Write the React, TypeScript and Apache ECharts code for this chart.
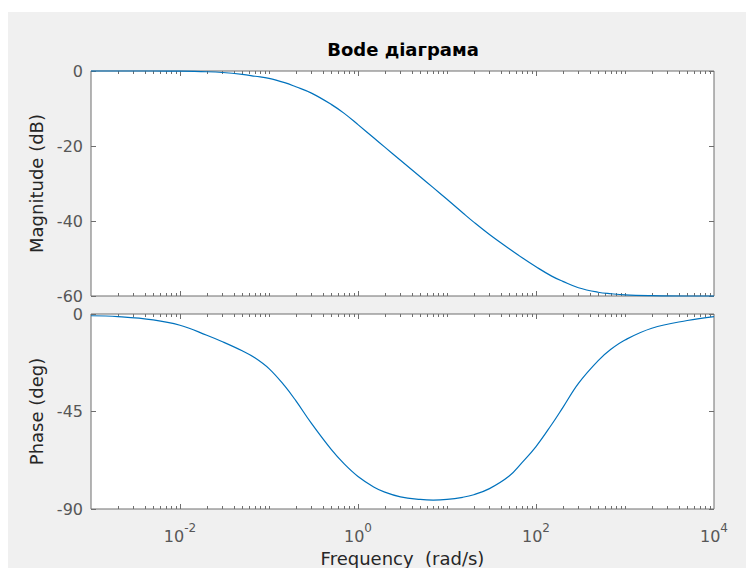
import { useEffect, useRef } from 'react';
import * as echarts from 'echarts';

const frequencies = [
  0.001, 0.002, 0.005, 0.01, 0.02, 0.03, 0.05, 0.07, 0.1, 0.15, 0.2, 0.3, 0.5,
  0.7, 1, 1.5, 2, 3, 5, 7, 10, 15, 20, 30, 50, 70, 100, 150, 200, 300, 500,
  700, 1000, 2000, 5000, 10000,
];
const magnitudeDb = [
  0, 0, 0, -0.05, -0.2, -0.4, -0.9, -1.4, -1.95, -3.1, -4.2, -5.9, -8.9, -11.3,
  -14.3, -17.8, -20.3, -23.8, -28.2, -31.1, -34.2, -37.8, -40.3, -43.6, -47.4,
  -49.8, -52.2, -54.7, -56.1, -57.8, -59.0, -59.4, -59.7, -59.9, -60, -60,
];
const phaseDeg = [
  -0.8, -1.2, -2.7, -5.2, -9.8, -12.8, -17.0, -20.3, -25.2, -33.2, -40.0,
  -50.5, -62.5, -69.2, -75.0, -79.8, -82.2, -84.4, -85.6, -85.9, -85.6, -84.6,
  -83.4, -80.6, -74.8, -68.5, -61.2, -51.0, -43.2, -32.0, -21.5, -16.2, -12.0,
  -6.6, -3.0, -1.2,
];

const magnitudeAxis = { min: -60, max: 0, interval: 20 };
const phaseAxis = { min: -90, max: 0, interval: 45 };
const freqRange = { min: 0.001, max: 10000 };

const titleText = 'Bode діаграма';
const magnitudeLabel = 'Magnitude (dB)';
const phaseLabel = 'Phase (deg)';
const frequencyLabel = 'Frequency  (rad/s)';

const FONT = '"DejaVu Sans", "Liberation Sans", Arial, sans-serif';
const FRAME = '#6e6e6e';
const TICKTXT = '#575757';

export default function App() {
  const ref = useRef<HTMLDivElement>(null);

  useEffect(() => {
    const el = ref.current!;
    const chart = echarts.init(el, null, { renderer: 'svg' });

    const grids = [
      { left: 83, top: 59, width: 623, height: 225 },
      { left: 83, top: 302, width: 623, height: 197 },
    ];

    const xAxisBase = (gridIndex: number, showLabels: boolean) => ({
      type: 'log',
      logBase: 10,
      gridIndex,
      min: freqRange.min,
      max: freqRange.max,
      splitNumber: 7,
      interval: 1,
      axisLine: { show: false },
      axisTick: { show: false },
      splitLine: { show: false },
      axisLabel: showLabels
        ? {
            show: true,
            margin: 13,
            showMinLabel: true,
            showMaxLabel: true,
            formatter: (v: number) => {
              const e = Math.round(Math.log10(v));
              if (e % 2 !== 0) return '';
              return `{b|10}{s|${e}}`;
            },
            rich: {
              b: {
                fontFamily: FONT,
                fontSize: 16,
                color: TICKTXT,
                padding: [4, 0, 0, 0],
              },
              s: {
                fontFamily: FONT,
                fontSize: 12,
                color: TICKTXT,
                padding: [0, 0, 12, 0],
              },
            },
          }
        : { show: false },
      name: showLabels ? frequencyLabel : '',
      nameLocation: 'middle',
      nameGap: 40,
      nameTextStyle: { fontFamily: FONT, fontSize: 18, color: '#262626' },
    });

    const yAxisBase = (
      gridIndex: number,
      ax: { min: number; max: number; interval: number },
      position: 'left' | 'right',
      name: string
    ) => ({
      type: 'value',
      gridIndex,
      position,
      min: ax.min,
      max: ax.max,
      interval: ax.interval,
      axisLine: { show: false },
      axisTick: {
        show: true,
        inside: true,
        length: 5,
        lineStyle: { color: FRAME },
      },
      splitLine: { show: false },
      axisLabel:
        position === 'left'
          ? {
              show: true,
              margin: 8,
              fontFamily: FONT,
              fontSize: 16,
              color: TICKTXT,
              showMinLabel: true,
              showMaxLabel: true,
            }
          : { show: false },
      name: position === 'left' ? name : '',
      nameLocation: 'middle',
      nameGap: 44,
      nameRotate: 90,
      nameTextStyle: { fontFamily: FONT, fontSize: 18, color: '#262626' },
    });

    const magData = frequencies.map((f, i) => [f, magnitudeDb[i]]);
    const phaseData = frequencies.map((f, i) => [f, phaseDeg[i]]);

    chart.setOption({
      animation: false,
      backgroundColor: '#f0f0f0',
      title: {
        text: titleText,
        left: 390,
        top: 23,
        textAlign: 'center',
        textStyle: {
          fontFamily: FONT,
          fontSize: 18,
          fontWeight: 'bold',
          color: '#000',
        },
      },
      grid: grids.map((g) => ({
        ...g,
        show: true,
        backgroundColor: '#ffffff',
        borderColor: FRAME,
        borderWidth: 1,
        containLabel: false,
      })),
      xAxis: [xAxisBase(0, false), xAxisBase(1, true)],
      yAxis: [
        yAxisBase(0, magnitudeAxis, 'left', magnitudeLabel),
        yAxisBase(0, magnitudeAxis, 'right', ''),
        yAxisBase(1, phaseAxis, 'left', phaseLabel),
        yAxisBase(1, phaseAxis, 'right', ''),
      ],
      series: [
        {
          type: 'line',
          xAxisIndex: 0,
          yAxisIndex: 0,
          data: magData,
          showSymbol: false,
          smooth: 0.4,
          clip: false,
          lineStyle: { color: '#0072BD', width: 1.2 },
        },
        {
          type: 'line',
          xAxisIndex: 1,
          yAxisIndex: 2,
          data: phaseData,
          showSymbol: false,
          smooth: 0.4,
          clip: false,
          lineStyle: { color: '#0072BD', width: 1.2 },
        },
      ],
    });

    // Log-axis minor/major ticks on top and bottom edges of each plot
    const ticks: any[] = [];
    const yRanges = [
      { xi: 0, yi: 0, ax: magnitudeAxis },
      { xi: 1, yi: 2, ax: phaseAxis },
    ];
    yRanges.forEach(({ xi, yi, ax }) => {
      const yTop = chart.convertToPixel({ yAxisIndex: yi }, ax.max) as number;
      const yBot = chart.convertToPixel({ yAxisIndex: yi }, ax.min) as number;
      for (let e = -3; e <= 3; e++) {
        for (let k = 1; k <= 9; k++) {
          const v = k * Math.pow(10, e);
          if (v <= freqRange.min * 1.0001 || v >= freqRange.max * 0.9999) continue;
          const major = k === 1 && e % 2 === 0;
          const len = major ? 5 : 3;
          const x = Math.round(chart.convertToPixel({ xAxisIndex: xi }, v) as number) + 0.5;
          ticks.push({
            type: 'line',
            silent: true,
            shape: { x1: x, y1: yBot, x2: x, y2: yBot - len },
            style: { stroke: FRAME, lineWidth: 1 },
          });
          ticks.push({
            type: 'line',
            silent: true,
            shape: { x1: x, y1: yTop, x2: x, y2: yTop + len },
            style: { stroke: FRAME, lineWidth: 1 },
          });
        }
      }
    });
    chart.setOption({ graphic: ticks });

    return () => chart.dispose();
  }, []);

  return (
    <div
      ref={ref}
      style={{ position: 'absolute', left: 8, top: 12, width: 738, height: 556 }}
    />
  );
}
